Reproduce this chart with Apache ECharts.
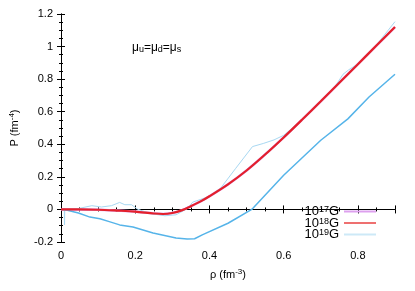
<!DOCTYPE html>
<html>
<head>
<meta charset="utf-8">
<script src="https://cdn.jsdelivr.net/npm/echarts@6/dist/echarts.min.js"></script>
<style>html,body{margin:0;padding:0;background:#fff}#c{width:415px;height:291px}</style>
</head>
<body>
<div id="c"></div>
<script>
// Tick labels
var xTicks = [0, 0.2, 0.4, 0.6, 0.8];
var yTicks = [-0.2, 0, 0.2, 0.4, 0.6, 0.8, 1, 1.2];

// Series names
var seriesNames = ['10{sup|17}G', '10{sup|18}G', '10{sup|19}G'];

// 10^17G and 10^18G (coincident curves)
var rhoMain = [0, 0.05, 0.1, 0.15, 0.2, 0.25, 0.275, 0.3, 0.325, 0.35, 0.375, 0.4, 0.45, 0.5, 0.55, 0.6, 0.65, 0.7, 0.75, 0.8, 0.85, 0.9];
var p17 = [0, 0, -0.002, -0.007, -0.013, -0.025, -0.028, -0.022, -0.006, 0.02, 0.048, 0.081, 0.154, 0.239, 0.337, 0.442, 0.552, 0.664, 0.778, 0.892, 1.006, 1.12];
var p18 = [0, 0, -0.002, -0.007, -0.013, -0.025, -0.028, -0.022, -0.006, 0.02, 0.048, 0.081, 0.154, 0.239, 0.337, 0.442, 0.552, 0.664, 0.778, 0.892, 1.006, 1.12];

// 10^19G (thin light curve)
var rho19 = [0, 0.009, 0.0095, 0.01, 0.04, 0.083, 0.109, 0.136, 0.158, 0.172, 0.19, 0.206, 0.24, 0.28, 0.31, 0.34, 0.355, 0.4, 0.43, 0.47, 0.516, 0.545, 0.574, 0.6, 0.65, 0.7, 0.74, 0.76, 0.775, 0.8, 0.85, 0.9];
var p19 = [0, 0, -0.094, 0, 0.002, 0.023, 0.015, 0.023, 0.043, 0.029, 0.029, 0.002, -0.025, -0.039, -0.033, 0.005, 0.045, 0.08, 0.13, 0.25, 0.386, 0.405, 0.427, 0.455, 0.55, 0.66, 0.76, 0.83, 0.857, 0.893, 1.01, 1.153];

// second (lower) 10^19G curve
var rho19b = [0, 0.009, 0.047, 0.078, 0.105, 0.13, 0.158, 0.194, 0.248, 0.31, 0.34, 0.36, 0.382, 0.45, 0.514, 0.6, 0.7, 0.773, 0.83, 0.9];
var p19b = [0, 0, -0.022, -0.047, -0.057, -0.075, -0.095, -0.108, -0.145, -0.176, -0.182, -0.18, -0.155, -0.085, 0.0, 0.21, 0.425, 0.556, 0.69, 0.83];

function zip(a, b) { return a.map(function (v, i) { return [v, b[i]]; }); }

var font = 'Liberation Sans, Arial, sans-serif';
var chart = echarts.init(document.getElementById('c'), null, {renderer: 'canvas'});

var axisCommon = {
  axisLine: {show: true, lineStyle: {color: '#000', width: 1}},
  axisTick: {show: true, inside: true, length: 4, lineStyle: {color: '#000'}},
  minorTick: {show: true, splitNumber: 4, length: 2, lineStyle: {color: '#000'}},
  splitLine: {show: false}
};
var supStyle = {fontSize: 8, fontFamily: font, verticalAlign: 'top', padding: [0, 0, 5, 0], color: '#000'};

chart.setOption({
  animation: false,
  backgroundColor: '#fff',
  grid: {left: 57, right: 20, top: 14, bottom: 49, containLabel: false},
  xAxis: [
    Object.assign({type: 'value', min: 0, max: 0.9, interval: 0.2, position: 'bottom',
      axisLabel: {color: '#000', fontSize: 11, fontFamily: font, margin: 8, showMaxLabel: false,
        formatter: function (v) { var r = Math.round(v * 10) / 10; return xTicks.indexOf(r) >= 0 ? String(r) : ''; }},
      name: 'ρ (fm{sup|-3})', nameLocation: 'middle', nameGap: 26,
      nameTextStyle: {color: '#000', fontSize: 11, fontFamily: font, rich: {sup: supStyle}}
    }, axisCommon),
    Object.assign({type: 'value', min: 0, max: 0.9, interval: 0.2, position: 'top',
      axisLabel: {show: false}}, axisCommon)
  ],
  yAxis: [
    Object.assign({type: 'value', min: -0.2, max: 1.2, interval: 0.2, position: 'left',
      axisLabel: {color: '#000', fontSize: 11, fontFamily: font, margin: 8,
        formatter: function (v) { var r = Math.round(v * 10) / 10; return yTicks.indexOf(r) >= 0 ? String(r) : ''; }},
      name: 'P (fm{sup|-4})', nameLocation: 'middle', nameGap: 40, nameRotate: 90,
      nameTextStyle: {color: '#000', fontSize: 11, fontFamily: font, rich: {sup: supStyle}}
    }, axisCommon),
    Object.assign({type: 'value', min: -0.2, max: 1.2, interval: 0.2, position: 'right',
      axisLabel: {show: false}}, axisCommon)
  ],
  legend: {
    orient: 'vertical', right: 34, top: 200, align: 'right',
    itemWidth: 32, itemHeight: 2, itemGap: -1.5, icon: 'rect',
    data: seriesNames,
    textStyle: {color: '#000', fontSize: 13, fontFamily: font, lineHeight: 12,
      rich: {sup: {fontSize: 9, fontFamily: font, verticalAlign: 'top', lineHeight: 8, color: '#000'}}}
  },
  graphic: [{
    type: 'text', left: 132, top: 42,
    style: {text: 'μ{sub|u}=μ{sub|d}=μ{sub|s}', fontSize: 12, fontFamily: font, fill: '#000',
      rich: {sub: {fontSize: 9, fontFamily: font, verticalAlign: 'bottom', padding: [4, 0, 0, 0]}}}
  }],
  series: [
    {name: seriesNames[0], type: 'line', data: zip(rhoMain, p17), showSymbol: false, symbol: 'none',
      smooth: 0.3,
      lineStyle: {color: '#dda0ee', width: 2.5}, itemStyle: {color: '#dda0ee'}, z: 2},
    {name: seriesNames[1], type: 'line', data: zip(rhoMain, p18), showSymbol: false, symbol: 'none',
      smooth: 0.3,
      lineStyle: {color: '#e4202a', width: 2.2}, itemStyle: {color: '#ee7070'}, z: 4},
    {name: seriesNames[2], type: 'line', data: zip(rho19, p19), showSymbol: false, symbol: 'none',
      lineStyle: {color: '#a8d8f2', width: 1}, itemStyle: {color: '#cde9f7'}, z: 3},
    {name: 'lower', type: 'line', data: zip(rho19b, p19b), showSymbol: false, symbol: 'none',
      lineStyle: {color: '#56b4e9', width: 1.5}, itemStyle: {color: '#56b4e9'}, z: 3}
  ]
});
</script>
</body>
</html>
